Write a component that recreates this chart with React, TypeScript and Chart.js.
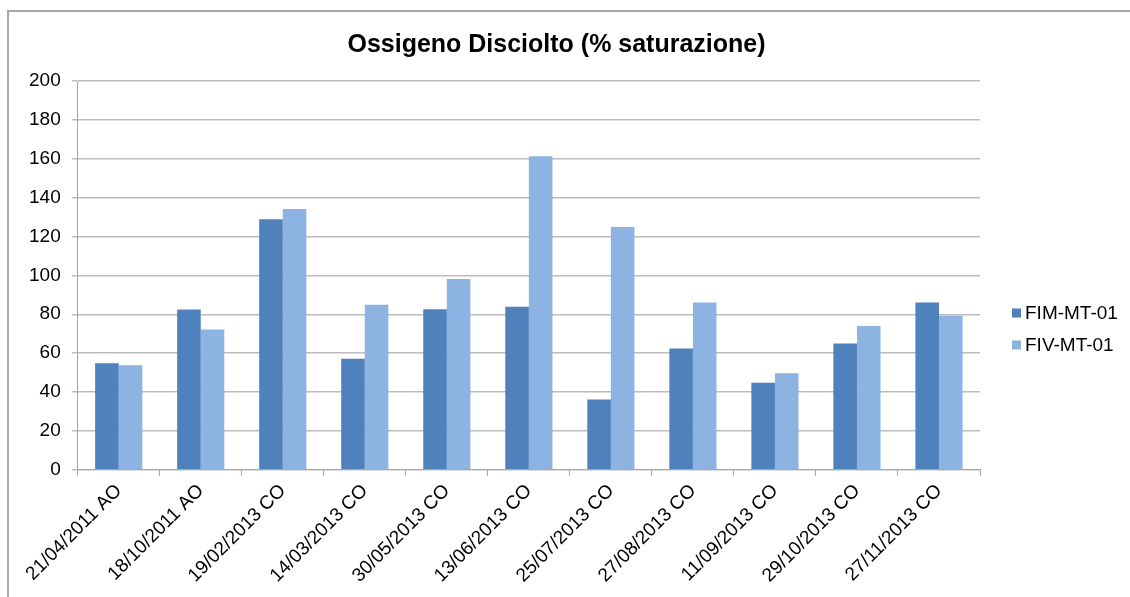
import React, { useEffect, useRef } from "react";
import { Chart, registerables } from "chart.js";

Chart.register(...registerables);

const TITLE = "Ossigeno Disciolto (% saturazione)";
const categories = [
  "21/04/2011 AO",
  "18/10/2011 AO",
  "19/02/2013 CO",
  "14/03/2013 CO",
  "30/05/2013 CO",
  "13/06/2013 CO",
  "25/07/2013 CO",
  "27/08/2013 CO",
  "11/09/2013 CO",
  "29/10/2013 CO",
  "27/11/2013 CO",
];
const seriesNames = ["FIM-MT-01", "FIV-MT-01"];
const fimValues = [54.8, 82.5, 128.9, 57.1, 82.6, 83.9, 36.2, 62.4, 44.8, 64.9, 86.1];
const fivValues = [53.8, 72.2, 134.2, 84.9, 98.1, 161.3, 124.9, 86.1, 49.6, 73.9, 79.2];
const yMin = 0;
const yMax = 200;
const yStep = 20;

const FONT = '"Liberation Sans", Arial, sans-serif';

const titlePlugin = {
  id: "customTitle",
  afterDraw(chart: any) {
    const ctx = chart.ctx;
    ctx.save();
    ctx.font = `bold 25px ${FONT}`;
    ctx.fillStyle = "#000";
    ctx.textAlign = "center";
    ctx.textBaseline = "alphabetic";
    ctx.fillText(TITLE, (chart.width - 26) / 2, 40);
    ctx.restore();
  },
};

const legendPlugin = {
  id: "sideLegend",
  afterDraw(chart: any) {
    const { ctx, chartArea } = chart;
    const ds = chart.data.datasets;
    const rowH = 32;
    const cy = (chart.height + chartArea.top) / 2 - 10;
    const y0 = cy - ((ds.length - 1) * rowH) / 2;
    const x = chartArea.right + 32;
    ctx.save();
    ctx.font = `19px ${FONT}`;
    ctx.textBaseline = "middle";
    ctx.textAlign = "left";
    ds.forEach((d: any, i: number) => {
      const y = y0 + i * rowH;
      ctx.fillStyle = d.backgroundColor;
      ctx.fillRect(x, y - 4.5, 9, 9);
      ctx.fillStyle = "#000";
      ctx.fillText(d.label, x + 13, y + 1);
    });
    ctx.restore();
  },
};

export default function App() {
  const ref = useRef<HTMLCanvasElement | null>(null);

  useEffect(() => {
    document.body.style.overflow = "hidden";
    const canvas = ref.current;
    if (!canvas) return;
    const chart = new Chart(canvas, {
      type: "bar",
      data: {
        labels: categories,
        datasets: [
          {
            label: seriesNames[0],
            data: fimValues,
            backgroundColor: "#4F81BD",
            borderWidth: 0,
            categoryPercentage: 0.575,
            barPercentage: 1,
          },
          {
            label: seriesNames[1],
            data: fivValues,
            backgroundColor: "#8DB3E2",
            borderWidth: 0,
            categoryPercentage: 0.575,
            barPercentage: 1,
          },
        ],
      },
      options: {
        responsive: false,
        animation: false,
        layout: { padding: { top: 69, left: 9, right: 150, bottom: 6 } },
        plugins: {
          title: { display: false },
          tooltip: { enabled: false },
          legend: { display: false },
        },
        scales: {
          x: {
            grid: {
              display: true,
              drawOnChartArea: false,
              drawTicks: true,
              tickLength: 6,
              color: "#a6a6a6",
              offset: true,
            },
            border: { display: true, color: "#a6a6a6", width: 1 },
            ticks: {
              maxRotation: 45,
              minRotation: 45,
              autoSkip: false,
              padding: 4,
              color: "#000",
              font: { family: FONT, size: 19 },
            },
          },
          y: {
            min: yMin,
            max: yMax,
            grid: {
              color: "#bcbcbc",
              lineWidth: 1.5,
              tickLength: 6,
              drawTicks: true,
            },
            border: { display: true, color: "#a6a6a6", width: 1 },
            ticks: {
              stepSize: yStep,
              padding: 11,
              color: "#000",
              font: { family: FONT, size: 19 },
            },
          },
        },
      },
      plugins: [titlePlugin, legendPlugin],
    });
    return () => chart.destroy();
  }, []);

  return (
    <div
      style={{
        position: "absolute",
        left: 7,
        top: 10,
        width: 1123,
        height: 587,
        boxSizing: "border-box",
        borderTop: "2px solid #a6a6a6",
        borderLeft: "2px solid #a6a6a6",
        background: "#fff",
      }}
    >
      <canvas ref={ref} width={1121} height={585} style={{ display: "block" }} />
    </div>
  );
}
